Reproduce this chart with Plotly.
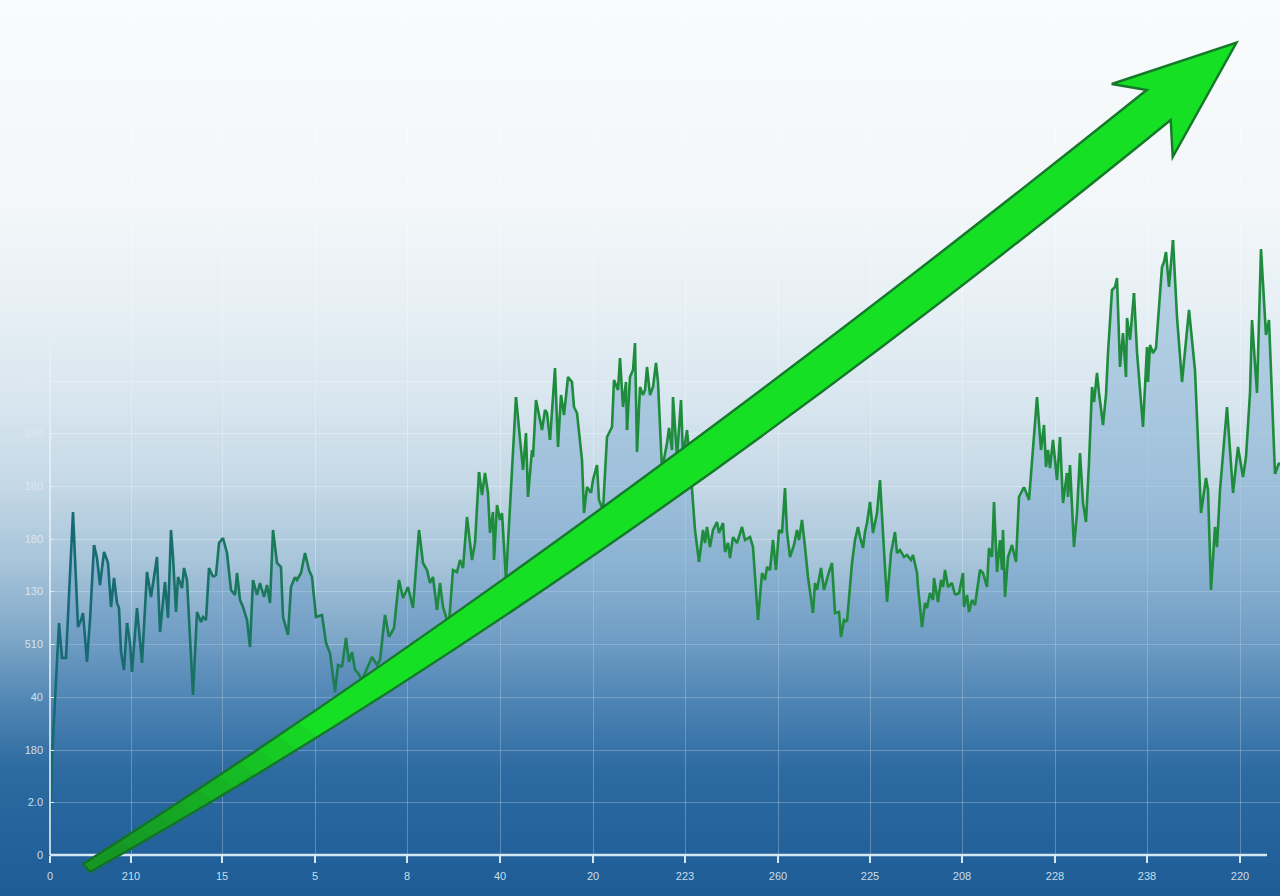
import base64
import struct
import zlib

import plotly.graph_objects as go

# ---------------- data ----------------
X_VALUES = [
    0, 2, 5, 9, 12, 16, 23, 28, 31, 33, 37, 40, 44, 47, 50, 54, 57, 58, 61, 64,
    67, 69, 71, 74, 77, 80, 82, 87, 92, 97, 101, 107, 110, 115, 118, 121, 123, 126, 128, 132,
    134, 137, 143, 147, 151, 153, 156, 159, 163, 166, 169, 173, 177, 181, 185, 187, 190, 193, 197, 200,
    203, 207, 210, 214, 217, 220, 223, 227, 231, 233, 238, 241, 245, 247, 251, 255, 259, 262, 266, 272,
    276, 280, 285, 288, 292, 296, 299, 302, 305, 308, 312, 317, 322, 327, 330, 335, 339, 344, 349, 353,
    358, 363, 366, 369, 373, 377, 380, 383, 387, 390, 393, 397, 399, 403, 407, 410, 413, 417, 422, 425,
    429, 432, 435, 438, 440, 443, 444, 447, 450, 452, 456, 461, 466, 471, 473, 476, 478, 482, 483, 486,
    490, 492, 495, 497, 500, 505, 508, 511, 514, 518, 522, 524, 527, 532, 534, 537, 541, 543, 547, 549,
    553, 557, 562, 564, 568, 570, 573, 576, 577, 580, 583, 585, 587, 590, 593, 595, 597, 600, 603, 606,
    608, 612, 617, 619, 622, 623, 627, 631, 633, 637, 641, 645, 649, 653, 655, 657, 660, 663, 667, 669,
    673, 675, 678, 680, 683, 687, 692, 695, 700, 703, 708, 712, 715, 717, 720, 723, 726, 729, 732, 735,
    737, 740, 744, 747, 749, 752, 755, 758, 763, 765, 767, 771, 774, 777, 779, 782, 785, 789, 791, 794,
    797, 802, 805, 808, 810, 813, 815, 817, 820, 823, 827, 830, 833, 837, 841, 845, 847, 850, 854, 857,
    861, 863, 867, 868, 872, 875, 877, 880, 883, 884, 888, 891, 893, 895, 898, 902, 905, 909, 913, 914,
    917, 919, 922, 925, 930, 933, 937, 939, 942, 944, 947, 950, 952, 953, 955, 958, 962, 963, 966, 969,
    974, 979, 987, 991, 994, 996, 998, 1000, 1003, 1007, 1010, 1013, 1017, 1018, 1020, 1024, 1027, 1030, 1033, 1036,
    1039, 1042, 1044, 1047, 1049, 1053, 1056, 1058, 1062, 1065, 1067, 1070, 1073, 1076, 1077, 1080, 1084, 1087, 1093, 1097,
    1098, 1100, 1103, 1106, 1112, 1114, 1116, 1119, 1123, 1127, 1132, 1134, 1139, 1145, 1151, 1156, 1158, 1161, 1165, 1167,
    1170, 1177, 1183, 1188, 1193, 1196, 1200, 1202, 1207, 1211, 1216, 1219, 1225, 1229, 1230,
]
Y_VALUES = [
    15, 95, 155, 232, 197, 197, 343, 228, 235, 242, 193, 235, 310, 297, 270, 303, 295, 292, 248, 277,
    252, 247, 203, 185, 232, 212, 183, 247, 192, 283, 258, 298, 223, 273, 237, 325, 298, 243, 278, 267,
    287, 275, 160, 243, 233, 238, 235, 287, 278, 280, 312, 317, 302, 265, 260, 282, 255, 248, 235, 208,
    275, 260, 272, 258, 270, 252, 325, 292, 288, 238, 220, 268, 278, 275, 282, 302, 285, 278, 238, 240,
    212, 202, 163, 190, 188, 217, 193, 203, 185, 182, 175, 187, 198, 190, 195, 240, 218, 227, 275, 257,
    268, 247, 287, 325, 292, 285, 272, 278, 245, 272, 248, 235, 232, 285, 283, 295, 287, 338, 295, 312,
    383, 360, 382, 362, 322, 343, 295, 350, 335, 342, 275, 372, 458, 403, 385, 422, 358, 405, 398, 455,
    437, 425, 445, 442, 415, 487, 408, 460, 440, 478, 473, 448, 442, 395, 342, 368, 362, 375, 390, 355,
    345, 418, 428, 475, 465, 497, 448, 473, 425, 478, 485, 512, 403, 468, 460, 465, 488, 460, 468, 492,
    473, 385, 412, 427, 405, 458, 398, 455, 398, 425, 380, 325, 293, 325, 312, 328, 308, 325, 333, 322,
    332, 303, 312, 297, 318, 312, 328, 315, 318, 308, 235, 282, 275, 288, 285, 315, 285, 325, 322, 367,
    323, 298, 310, 325, 315, 335, 308, 278, 242, 272, 265, 287, 265, 277, 283, 292, 242, 243, 218, 235,
    233, 292, 315, 328, 318, 307, 323, 332, 353, 322, 342, 375, 322, 253, 302, 323, 302, 305, 298, 300,
    295, 300, 282, 268, 228, 252, 247, 262, 255, 277, 253, 275, 268, 285, 268, 272, 260, 262, 282, 248,
    260, 243, 255, 250, 285, 282, 268, 307, 298, 353, 283, 315, 285, 325, 258, 298, 310, 305, 293, 358,
    368, 355, 458, 405, 430, 388, 405, 387, 415, 375, 418, 352, 382, 358, 390, 308, 342, 402, 352, 333,
    392, 468, 453, 482, 462, 430, 460, 502, 565, 568, 577, 488, 522, 478, 537, 515, 562, 503, 428, 508,
    473, 510, 502, 507, 588, 593, 603, 568, 615, 538, 473, 492, 545, 485, 342, 377, 365, 265, 328, 308,
    365, 448, 362, 408, 378, 398, 462, 535, 462, 606, 520, 535, 381, 392, 390,
]

X_TICK_VALUES = [0, 81, 172, 265, 357, 450, 543, 635, 728, 820, 912, 1005, 1097, 1190]
X_TICK_LABELS = ["0", "210", "15", "5", "8", "40", "20", "223", "260", "225", "208", "228", "238", "220"]
Y_TICK_VALUES = [0, 53, 105, 158, 211, 264, 316, 369, 422, 474]
Y_TICK_LABELS = ["0", "2.0", "180", "40", "510", "130", "180", "180", "280", "160"]

X_RANGE = [0, 1230]
Y_RANGE = [0, 855]
Y_AXIS_TOP = 515
X_AXIS_END = 1217

# ---------------- layout geometry / style ----------------
W, H = 1280, 896
ML, MR, MT, MB = 50, 0, 0, 41
PW, PH = W - ML - MR, H - MT - MB


def hex2rgb(h):
    h = h.lstrip("#")
    return tuple(int(h[i:i + 2], 16) for i in (0, 2, 4))


def lerp(c1, c2, t):
    return tuple(int(round(a + (b - a) * t)) for a, b in zip(c1, c2))


# background vertical gradient (pixel row -> colour)
BG_STOPS = [
    (0, "#f9fbfc"), (200, "#f3f7f9"), (300, "#e8f0f5"), (400, "#d8e6ef"),
    (480, "#c6d9e7"), (560, "#a8c5da"), (630, "#83aaca"), (700, "#5287b4"),
    (770, "#2c6aa0"), (855, "#21609a"), (896, "#1e5d94"),
]


def bg_color(row):
    for (y0, c0), (y1, c1) in zip(BG_STOPS[:-1], BG_STOPS[1:]):
        if y0 <= row <= y1:
            return lerp(hex2rgb(c0), hex2rgb(c1), (row - y0) / (y1 - y0))
    return hex2rgb(BG_STOPS[-1][1])


def make_png(w, h, rows):
    raw = b"".join(b"\x00" + bytes(rgb) * w for rgb in rows)

    def chunk(t, d):
        return struct.pack(">I", len(d)) + t + d + struct.pack(">I", zlib.crc32(t + d) & 0xFFFFFFFF)

    return (b"\x89PNG\r\n\x1a\n"
            + chunk(b"IHDR", struct.pack(">IIBBBBB", w, h, 8, 2, 0, 0, 0))
            + chunk(b"IDAT", zlib.compress(raw, 9))
            + chunk(b"IEND", b""))


png = make_png(4, H, [bg_color(r) for r in range(H)])
bg_src = "data:image/png;base64," + base64.b64encode(png).decode()

fig = go.Figure()

# area fill
fig.add_trace(go.Scatter(
    x=X_VALUES, y=Y_VALUES, mode="lines", line=dict(width=0),
    fill="tozeroy",
    fillgradient=dict(
        type="vertical",
        colorscale=[
            [0.0, "rgba(40,100,160,0.05)"],
            [0.25, "rgba(60,120,180,0.18)"],
            [0.5, "rgba(80,140,195,0.32)"],
            [0.75, "rgba(100,155,200,0.40)"],
            [1.0, "rgba(120,170,210,0.45)"],
        ],
        start=0, stop=max(Y_VALUES),
    ),
    hoverinfo="skip", showlegend=False,
))

# line, coloured from teal (left) to green (right)
TEAL = hex2rgb("#166a74")
GREEN = hex2rgb("#1e8c3c")
n = len(X_VALUES)
seg = 12
for s in range(0, n - 1, seg):
    e = min(s + seg, n - 1)
    xm = (X_VALUES[s] + X_VALUES[e]) / 2
    t = min(max((xm - 40) / 380, 0), 1)
    c = lerp(TEAL, GREEN, t)
    fig.add_trace(go.Scatter(
        x=X_VALUES[s:e + 1], y=Y_VALUES[s:e + 1], mode="lines",
        line=dict(color="rgb(%d,%d,%d)" % c, width=2.6),
        hoverinfo="skip", showlegend=False,
    ))


# decorative arrow (pixel geometry -> paper coordinates)
def P(px, py):
    return "%.5f,%.5f" % ((px - ML) / PW, (H - MB - py) / PH)


def bez(p0, c, p1, t):
    return tuple((1 - t) ** 2 * a + 2 * t * (1 - t) * b + t ** 2 * d for a, b, d in zip(p0, c, p1))


TAIL_U, CTRL_U, NOTCH_U = (83, 864), (560, 560), (1146.7, 90)
BARB_L, TIP, BARB_R, NOTCH_R = (1111.7, 84), (1236.5, 42.5), (1172.7, 157), (1170.7, 120)
CTRL_L, TAIL_L = (600, 585), (90, 872)
path = ("M " + P(*TAIL_U) + " Q " + P(*CTRL_U) + " " + P(*NOTCH_U)
        + " L " + P(*BARB_L) + " L " + P(*TIP) + " L " + P(*BARB_R) + " L " + P(*NOTCH_R)
        + " Q " + P(*CTRL_L) + " " + P(*TAIL_L) + " Z")

shapes = [
    # y axis line
    dict(type="line", xref="paper", yref="paper", x0=0, x1=0, y0=0,
         y1=Y_AXIS_TOP / Y_RANGE[1], line=dict(color="#e6eff6", width=1.6), layer="above"),
    # x axis line
    dict(type="line", xref="paper", yref="paper", x0=0, x1=X_AXIS_END / X_RANGE[1],
         y0=0, y1=0, line=dict(color="#d6e7f4", width=2.6), layer="above"),
    dict(type="path", xref="paper", yref="paper", path=path,
         fillcolor="#16e024", line=dict(color="#15782a", width=2.4), layer="above"),
]

# darker, softer tail of the arrow (stacked translucent overlays)
for k in range(10):
    tmax = 0.04 + 0.02 * k
    steps = [i / 12 * tmax for i in range(13)]
    up = [bez(TAIL_U, CTRL_U, NOTCH_U, s) for s in steps]
    lo = [bez(TAIL_L, CTRL_L, NOTCH_R, s) for s in steps][::-1]
    pts = up + lo
    shapes.append(dict(
        type="path", xref="paper", yref="paper",
        path="M " + " L ".join(P(*p) for p in pts) + " Z",
        fillcolor="rgba(18,110,40,0.09)", line=dict(width=0), layer="above",
    ))

tick_font = dict(family="Liberation Sans, Arial, sans-serif", size=11, color="rgba(222,234,244,0.92)")

fig.update_layout(
    width=W, height=H, autosize=False,
    margin=dict(l=ML, r=MR, t=MT, b=MB, pad=0),
    paper_bgcolor="#1e5d94",
    plot_bgcolor="rgba(0,0,0,0)",
    images=[dict(source=bg_src, xref="paper", yref="paper",
                 x=-ML / PW, y=1 + MT / PH, sizex=W / PW, sizey=H / PH,
                 sizing="stretch", xanchor="left", yanchor="top", layer="below")],
    shapes=shapes,
    showlegend=False,
    xaxis=dict(
        range=X_RANGE, tickmode="array", tickvals=X_TICK_VALUES, ticktext=X_TICK_LABELS,
        showgrid=True, gridcolor="rgba(255,255,255,0.28)", gridwidth=1,
        zeroline=False, showline=False,
        ticks="outside", ticklen=7, tickwidth=1.5, tickcolor="#d6e7f4",
        ticklabelstandoff=4,
        tickfont=tick_font, fixedrange=True,
    ),
    yaxis=dict(
        range=Y_RANGE, tickmode="array", tickvals=Y_TICK_VALUES, ticktext=Y_TICK_LABELS,
        showgrid=True, gridcolor="rgba(255,255,255,0.28)", gridwidth=1,
        zeroline=False, showline=False,
        ticks="inside", ticklen=4, tickwidth=1, tickcolor="#e6eff6",
        ticklabelstandoff=6,
        tickfont=tick_font, fixedrange=True,
    ),
)

fig.write_html(
    "out.html",
    config={"displayModeBar": False},
    post_script="document.body.style.margin='0';document.body.style.padding='0';"
                "document.body.style.overflow='hidden';",
)
